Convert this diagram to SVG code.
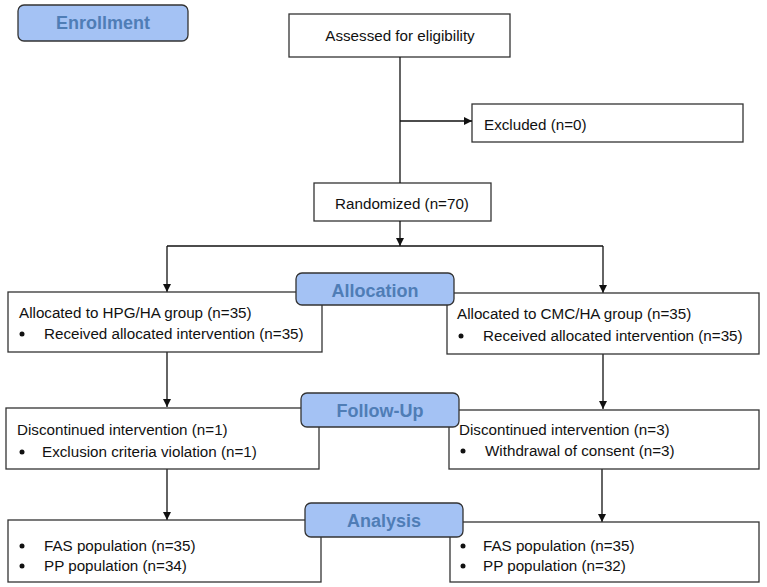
<svg xmlns="http://www.w3.org/2000/svg" width="767" height="587" viewBox="0 0 767 587">
<defs>
<marker id="arr" viewBox="0 0 10 10" refX="10" refY="5" markerWidth="8" markerHeight="8" markerUnits="userSpaceOnUse" orient="auto">
<path d="M0,0 L10,5 L0,10 z" fill="#111"/>
</marker>
<style>
.box{fill:#fff;stroke:#333;stroke-width:1.3}
.lbl{fill:#a4c2f4;stroke:#333;stroke-width:1.3}
.lt{font-family:"Liberation Sans",Arial,sans-serif;font-weight:bold;font-size:18px;fill:#4f7db6;text-anchor:middle}
.t{font-family:"Liberation Sans",Arial,sans-serif;font-size:15.2px;fill:#111}
.c{text-anchor:middle}
.ln{fill:none;stroke:#111;stroke-width:1.3}
</style>
</defs>
<rect width="767" height="587" fill="#fff"/>
<g id="enrollment"><rect class="lbl" x="18" y="5" width="170" height="36" rx="6"/><text class="lt" x="103" y="29">Enrollment</text></g>
<g id="assessed"><rect class="box" x="289" y="14" width="221" height="43"/><text class="t c" x="400" y="41">Assessed for eligibility</text></g>
<g id="excluded"><rect class="box" x="472" y="104" width="271" height="38"/><text class="t" x="484" y="130">Excluded (n=0)</text></g>
<g id="randomized"><rect class="box" x="314" y="183" width="177" height="38"/><text class="t c" x="402" y="209">Randomized (n=70)</text></g>
<g id="connectors">
<path class="ln" d="M400,57 V183"/>
<path class="ln" d="M400,121 H472" marker-end="url(#arr)"/>
<path class="ln" d="M400,221 V246" marker-end="url(#arr)"/>
<path class="ln" d="M167,246 H603"/>
<path class="ln" d="M167,246 V292" marker-end="url(#arr)"/>
<path class="ln" d="M603,246 V293" marker-end="url(#arr)"/>
<path class="ln" d="M167,352 V407" marker-end="url(#arr)"/>
<path class="ln" d="M603,354 V409" marker-end="url(#arr)"/>
<path class="ln" d="M167,469 V520" marker-end="url(#arr)"/>
<path class="ln" d="M602,469 V522" marker-end="url(#arr)"/>
</g>
<g id="alloc-left"><rect class="box" x="8" y="292" width="314" height="60"/>
<text class="t" x="19" y="318">Allocated to HPG/HA group (n=35)</text>
<circle cx="22" cy="334" r="2.5" fill="#111"/><text class="t" x="44" y="339">Received allocated intervention (n=35)</text></g>
<g id="alloc-right"><rect class="box" x="447" y="293" width="312" height="61"/>
<text class="t" x="457" y="319">Allocated to CMC/HA group (n=35)</text>
<circle cx="461" cy="336" r="2.5" fill="#111"/><text class="t" x="483" y="341">Received allocated intervention (n=35)</text></g>
<g id="allocation"><rect class="lbl" x="296" y="273" width="158" height="32" rx="6"/><text class="lt" x="375" y="297">Allocation</text></g>
<g id="follow-left"><rect class="box" x="6" y="408" width="313" height="61"/>
<text class="t" x="17" y="435">Discontinued intervention (n=1)</text>
<circle cx="22" cy="452" r="2.5" fill="#111"/><text class="t" x="42" y="457">Exclusion criteria violation (n=1)</text></g>
<g id="follow-right"><rect class="box" x="449" y="410" width="310" height="59"/>
<text class="t" x="459" y="435">Discontinued intervention (n=3)</text>
<circle cx="463" cy="451" r="2.5" fill="#111"/><text class="t" x="485" y="456">Withdrawal of consent (n=3)</text></g>
<g id="followup"><rect class="lbl" x="301" y="393" width="158" height="34" rx="6"/><text class="lt" x="380" y="417">Follow-Up</text></g>
<g id="analysis-left"><rect class="box" x="8" y="520" width="313" height="62"/>
<circle cx="22" cy="546" r="2.5" fill="#111"/><text class="t" x="44" y="551">FAS population (n=35)</text>
<circle cx="22" cy="566" r="2.5" fill="#111"/><text class="t" x="44" y="571">PP population (n=34)</text></g>
<g id="analysis-right"><rect class="box" x="450" y="522" width="309" height="60"/>
<circle cx="463" cy="546" r="2.5" fill="#111"/><text class="t" x="483" y="551">FAS population (n=35)</text>
<circle cx="463" cy="566" r="2.5" fill="#111"/><text class="t" x="483" y="571">PP population (n=32)</text></g>
<g id="analysis"><rect class="lbl" x="305" y="503" width="158" height="34" rx="6"/><text class="lt" x="384" y="527">Analysis</text></g>
</svg>
